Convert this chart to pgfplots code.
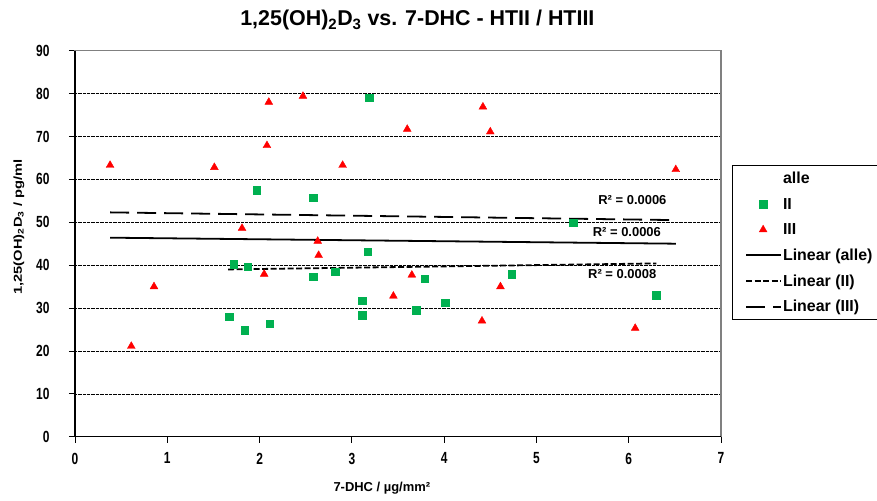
\documentclass[border=0pt]{standalone}
\usepackage{fontspec}
\setmainfont{Liberation Sans}
\usepackage{pgfplots}
\pgfplotsset{compat=1.18}
\definecolor{sqgreen}{RGB}{0,176,80}
\definecolor{frgray}{RGB}{128,128,128}
\pgfplotsset{
  markleg/.style={legend image code/.code={\draw[##1] plot coordinates {(17bp,0bp)};}},
  lineleg/.style={legend image code/.code={\draw[##1] (0bp,0bp) -- (35bp,0bp);}},
  emptyleg/.style={legend image code/.code={\path[draw=none,fill=none] (0bp,0bp) -- (35bp,0bp);}},
}
\pgfplotstableread{
x y
1.97 57.5
2.58 55.7
1.72 40.2
1.87 39.6
2.58 37.3
2.82 38.5
1.67 28.0
1.84 24.9
2.11 26.3
3.19 79.0
3.17 43.1
3.11 31.7
3.11 28.3
3.70 29.5
3.79 36.8
4.01 31.2
4.73 37.9
5.40 49.9
6.30 33.0
}\dataII
\pgfplotstableread{
x y
0.38 63.3
0.61 21.1
0.856 35.0
1.51 62.8
1.81 48.6
2.05 37.9
2.10 78.0
2.08 67.9
2.47 79.4
2.63 45.6
2.64 42.3
2.90 63.3
3.60 71.7
4.42 76.9
4.50 71.1
3.45 32.8
3.65 37.7
4.61 35.0
4.41 27.0
6.07 25.3
6.51 62.3
}\dataIII
\begin{document}
\begin{tikzpicture}
\begin{axis}[
  name=ax, scale only axis, width=646bp, height=386bp,
  xmin=0, xmax=7, ymin=0, ymax=90,
  xtick={0,1,...,7}, ytick={0,10,...,90},
  tick align=outside, tick pos=left, major tick length=6bp,
  tick style={black, line width=0.8pt},
  ymajorgrids,
  grid style={black, line width=0.6pt, dash pattern=on 0.8pt off 0.5pt},
  axis line style={frgray, line width=1.2pt},
  /pgf/number format/assume math mode=true,
  ticklabel style={font=\bfseries\fontsize{12}{14}\selectfont, yscale=1.35},
  xticklabel style={yshift=-4bp},
  yticklabel style={xshift=-16bp},
  title={1,25(OH)\textsubscript{2}D\textsubscript{3} vs. 7-DHC - HTII / HTIII},
  title style={at={(axis description cs:0.530,1.063)}, anchor=center, font=\bfseries\fontsize{21.5}{24}\selectfont},
  xlabel={7-DHC / µg/mm²},
  xlabel style={at={(axis description cs:0.475,-0.133)}, anchor=center, font=\bfseries\fontsize{13}{15}\selectfont},
  ylabel={1,25(OH)\textsubscript{2}D\textsubscript{3} / pg/ml},
  ylabel style={at={(axis description cs:-0.0867,0.543)}, anchor=center, xscale=1.27, font=\bfseries\fontsize{11.6}{14}\selectfont},
  clip=false,
  legend style={at={(rel axis cs:1.0372,0.688)}, anchor=north west, draw=none, fill=none,
    font=\bfseries\fontsize{16}{18}\selectfont, row sep=10.8bp, inner sep=0pt,
    nodes={inner sep=1bp},
    /tikz/every even column/.append style={column sep=0bp}},
  legend cell align=left,
]
\draw[black, line width=1.2pt] (rel axis cs:0,1) -- (rel axis cs:0,0) -- (rel axis cs:1,0);
\addlegendimage{emptyleg}
\addlegendentry{alle}
\addplot[only marks, mark=square*, mark size=3.8bp, color=sqgreen, markleg] table {\dataII};
\addlegendentry{II}
\addplot[only marks, mark=triangle*, mark size=4.5bp, color=red, markleg] table {\dataIII};
\addlegendentry{III}
\addplot[black, line width=1.8pt, no marks, lineleg] coordinates {(0.38,46.4) (6.51,45.0)};
\addlegendentry{Linear (alle)}
\addplot[black, line width=1.8pt, no marks, dash pattern=on 6bp off 2.5bp, lineleg] coordinates {(1.66,39.0) (6.30,40.4)};
\addlegendentry{Linear (II)}
\addplot[black, line width=1.8pt, no marks, dash pattern=on 19bp off 8bp, lineleg] coordinates {(0.38,52.3) (6.51,50.5)};
\addlegendentry{Linear (III)}
\node[font=\bfseries\fontsize{13}{15}\selectfont] at (axis cs:6.04,55.2) {R² = 0.0006};
\node[font=\bfseries\fontsize{13}{15}\selectfont] at (axis cs:5.98,47.7) {R² = 0.0006};
\node[font=\bfseries\fontsize{13}{15}\selectfont] at (axis cs:5.93,38.0) {R² = 0.0008};
\end{axis}
\begin{scope}[shift={(ax.south west)}, x=1bp, y=-1bp, shift={(-75,-436.7)}]
\draw[black, line width=1pt] (890,166) -- (732.3,166) -- (732.3,320) -- (890,320);
\pgfresetboundingbox
\path (0,0) rectangle (877,501);
\end{scope}
\end{tikzpicture}
\end{document}
